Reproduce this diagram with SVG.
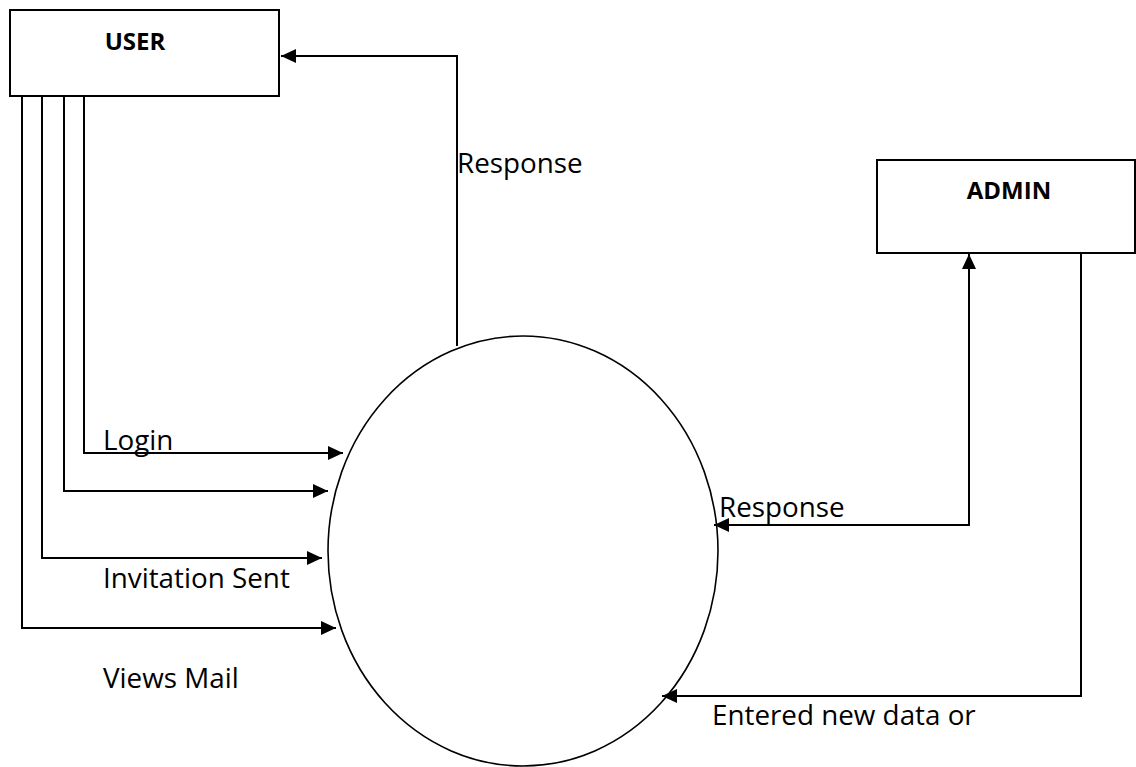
<svg xmlns="http://www.w3.org/2000/svg" width="1136" height="767" viewBox="0 0 1136 767">
  <style>
    .box { fill: #ffffff; stroke: #000000; stroke-width: 2; }
    .bubble { fill: #ffffff; stroke: #000000; stroke-width: 1.6; }
    .flow { fill: none; stroke: #000000; stroke-width: 2; }
    .title { font-family: "Open Sans", "Liberation Sans", sans-serif; font-weight: bold; font-size: 24px; fill: #000000; text-anchor: middle; }
    .label { font-family: "Open Sans", "Liberation Sans", sans-serif; font-size: 27.8px; fill: #000000; }
  </style>
  <defs>
    <marker id="arrow" markerUnits="userSpaceOnUse" markerWidth="16" markerHeight="16" refX="15" refY="7" orient="auto-start-reverse">
      <path d="M0,0 L15,7 L0,14 Z" fill="#000000"/>
    </marker>
  </defs>
  <rect width="1136" height="767" fill="#ffffff"/>

  <g id="process">
    <ellipse class="bubble" cx="523" cy="551" rx="195" ry="215"/>
  </g>

  <g id="connectors">
    <path class="flow" d="M457,346 V56 H281" marker-end="url(#arrow)"/>
    <path class="flow" d="M84,96 V453 H343" marker-end="url(#arrow)"/>
    <path class="flow" d="M64,96 V491 H328" marker-end="url(#arrow)"/>
    <path class="flow" d="M42,96 V558 H322" marker-end="url(#arrow)"/>
    <path class="flow" d="M22,96 V628 H336" marker-end="url(#arrow)"/>
    <path class="flow" d="M714,525 H969 V254" marker-start="url(#arrow)" marker-end="url(#arrow)"/>
    <path class="flow" d="M1081,253 V696 H662" marker-end="url(#arrow)"/>
  </g>

  <g id="user">
    <rect class="box" x="10" y="10" width="269" height="86"/>
    <text class="title" x="135" y="50">USER</text>
  </g>

  <g id="admin">
    <rect class="box" x="877" y="160" width="258" height="93"/>
    <text class="title" x="1009" y="199">ADMIN</text>
  </g>

  <g id="labels">
    <text class="label" x="457" y="173">Response</text>
    <text class="label" x="103" y="450">Login</text>
    <text class="label" x="103" y="588">Invitation Sent</text>
    <text class="label" x="103" y="688">Views Mail</text>
    <text class="label" x="719" y="517">Response</text>
    <text class="label" x="712" y="725">Entered new data or</text>
  </g>
</svg>
